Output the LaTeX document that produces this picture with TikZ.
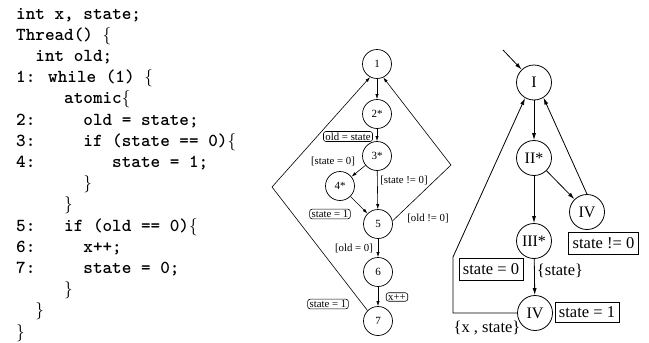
\documentclass[tikz,border=0pt]{standalone}
\usepackage{fontspec}
\newfontfamily\gfont{Liberation Serif}
\usetikzlibrary{arrows.meta}

\tikzset{
  code/.style={anchor=base west, inner sep=0pt,
    font=\fontsize{18.3}{21}\selectfont\ttfamily\bfseries},
  smallc/.style={draw, circle, line width=0.7pt, minimum size=29pt, inner sep=0pt,
    font=\fontsize{11}{13}\selectfont\gfont},
  bigc/.style={draw, circle, line width=0.8pt, minimum size=35pt, inner sep=0pt,
    font=\fontsize{16}{18}\selectfont\gfont},
  mlab/.style={inner sep=0pt, font=\fontsize{10.8}{12}\selectfont\gfont},
  mbox/.style={draw, rounded corners=2.5pt, line width=0.6pt, inner xsep=2pt, inner ysep=1.2pt,
    font=\fontsize{10.8}{12}\selectfont\gfont},
  rlab/.style={inner sep=0pt, font=\fontsize{16.5}{18}\selectfont\gfont},
  rbox/.style={draw, line width=0.8pt, inner xsep=4pt, minimum height=22pt,
    font=\fontsize{16.5}{18}\selectfont\gfont},
  marr/.style={-{Latex[length=5pt,width=3.2pt]}, line width=0.6pt},
  rarr/.style={-{Latex[length=7pt,width=4pt]}, line width=0.8pt},
}

\begin{document}
\begin{tikzpicture}[x=1pt,y=-1pt]
\useasboundingbox (0,0) rectangle (649,343);

% ---- the program listing (one column = 9.6pt) ----
\node[code] (l1)  at (16,19)              {int x, state;};
\node[code] (l2)  at (16,40.2)            {Thread() $\{$};
\node[code] (l3)  at ({16+2*9.6},61.4)    {int old;};
\node[code] (l4)  at (16,82.6)            {1: while (1) $\{$};
\node[code] (l5)  at ({16+5*9.6},103.8)   {atomic$\{$};
\node[code] (k2)  at (16,125)             {2:};
\node[code] (l6)  at ({16+7*9.6},125)     {old = state;};
\node[code] (k3)  at (16,146.2)           {3:};
\node[code] (l7)  at ({16+7*9.6},146.2)   {if (state == 0)$\{$};
\node[code] (k4)  at (16,167.4)           {4:};
\node[code] (l8)  at ({16+10*9.6},167.4)  {state = 1;};
\node[code] (l9)  at ({16+7*9.6},188.6)   {$\}$};
\node[code] (l10) at ({16+5*9.6},209.8)   {$\}$};
\node[code] (k5)  at (16,231)             {5:};
\node[code] (l11) at ({16+5*9.6},231)     {if (old == 0)$\{$};
\node[code] (k6)  at (16,252.2)           {6:};
\node[code] (l12) at ({16+7*9.6},252.2)   {x++;};
\node[code] (k7)  at (16,273.4)           {7:};
\node[code] (l13) at ({16+7*9.6},273.4)   {state = 0;};
\node[code] (l14) at ({16+5*9.6},294.6)   {$\}$};
\node[code] (l15) at ({16+2*9.6},315.8)   {$\}$};
\node[code] (l16) at (16,337)             {$\}$};

% ---- control flow graph ----
\node[smallc] (c1) at (377,64)  {1};
\node[smallc] (c2) at (377,114) {2*};
\node[smallc] (c3) at (377,156) {3*};
\node[smallc] (c4) at (340,186) {4*};
\node[smallc] (c5) at (378,224) {5};
\node[smallc] (c6) at (378,272) {6};
\node[smallc] (c7) at (378,321) {7};
\coordinate (rv) at (451,165);
\coordinate (lv) at (272,187);

\draw[marr] (c1) -- (c2);
\draw[marr] (c2) -- (c3);
\draw[marr] (c3) -- (c4);
\draw[marr] (c3) -- (c5);
\draw[marr] (c4) -- (c5);
\draw[marr] (c5) -- (c6);
\draw[marr] (c6) -- (c7);
\draw[marr] (c5.12) -- (rv) -- (c1.-65);
\draw[marr] (c7.135) -- (lv) -- (c1.-118);

\node[mbox] (b1) at (348,136.5) {old = state};
\node[mlab] (t1) at (333,161) {[state = 0]};
\node[mlab] (t2) at (404,180) {[state != 0]};
\node[mbox] (b2) at (330,214) {state = 1};
\node[mlab] (t3) at (428,218) {[old != 0]};
\node[mlab] (t4) at (354,248) {[old = 0]};
\node[mbox] (b3) at (397,297) {x++};
\node[mbox] (b4) at (328,304) {state = 1};

% ---- abstract graph ----
\node[bigc] (a1) at (534,82.5) {I};
\node[bigc] (a2) at (534,158)  {II*};
\node[bigc] (a4) at (587,212)  {IV};
\node[bigc] (a3) at (534,241)  {III*};
\node[bigc] (a5) at (535,313)  {IV};
\coordinate (init) at (503,50);
\coordinate (bl) at (453,313);
\coordinate (ml) at (453,257);

\draw[rarr] (init) -- (a1);
\draw[rarr] (a1) -- (a2);
\draw[rarr] (a2) -- (a4);
\draw[rarr] (a4.north) -- (a1.-58);
\draw[rarr] (a2) -- (a3);
\draw[rarr] (a3) -- (a5);
\draw[rarr] (a5.west) -- (bl) -- (ml) -- (a1.-120);

\node[rbox] (r1) at (603.5,243.5) {state != 0};
\node[rbox] (r2) at (491,269.5) {state = 0};
\node[rlab] (r3) at (560,271) {\{state\}};
\node[rbox, minimum height=20pt] (r4) at (587,312) {state = 1};
\node[rlab] (r5) at (487,328) {\{x , state\}};
\end{tikzpicture}
\end{document}
